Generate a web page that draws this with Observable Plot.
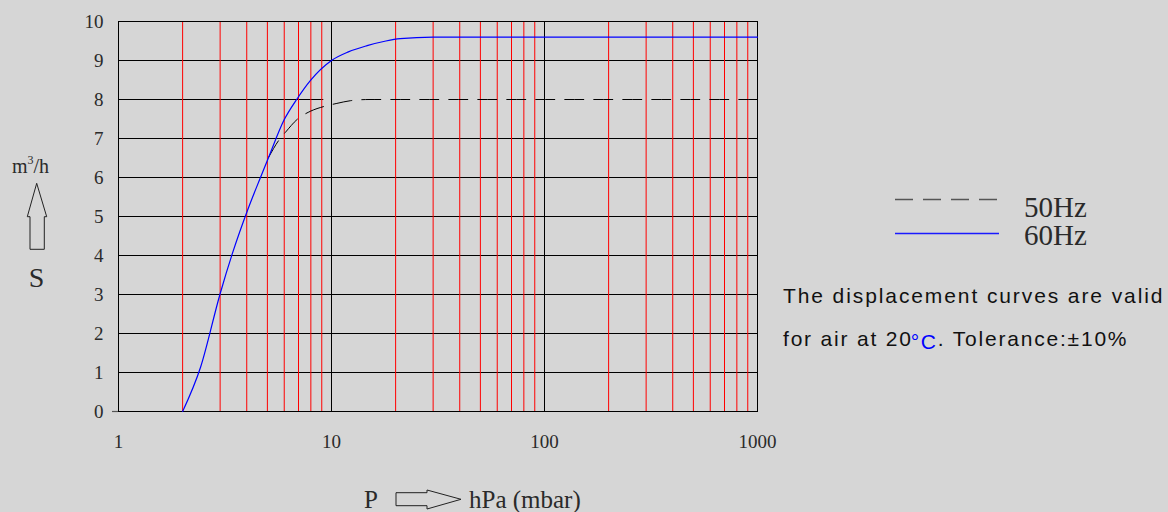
<!DOCTYPE html>
<html>
<head>
<meta charset="utf-8">
<script src="https://cdn.jsdelivr.net/npm/d3@7"></script>
<script src="https://cdn.jsdelivr.net/npm/@observablehq/plot@0.6"></script>
<style>
  html, body { margin: 0; padding: 0; background: #d6d6d6; }
  #chart { width: 1168px; height: 512px; position: relative; }
  svg { display: block; }
</style>
</head>
<body>
<div id="chart"></div>
<script>
// ---- data ----
const pressure60 = [2, 2.43, 3, 3.42, 4.06, 4.64, 5.07, 5.97, 6.9, 7.97, 10, 12, 14.7, 18, 21, 30, 1000];
const flow60     = [0, 1.14, 3.02, 4.04, 5.2, 6.0, 6.52, 7.46, 8.02, 8.49, 9.0, 9.22, 9.38, 9.5, 9.56, 9.6, 9.6];
const pressure50 = [5.07, 5.65, 6.08, 6.9, 7.97, 9.2, 10.6, 12.3, 15, 1000];
const flow50     = [6.52, 6.95, 7.16, 7.49, 7.7, 7.82, 7.9, 7.97, 8.0, 8.0];

const xTickValues = [1, 10, 100, 1000];
const yTickValues = [0, 1, 2, 3, 4, 5, 6, 7, 8, 9, 10];
const redGrid = [2, 3, 4, 5, 6, 7, 8, 9, 20, 30, 40, 50, 60, 70, 80, 90, 200, 300, 400, 500, 600, 700, 800, 900];
const blackGrid = [10, 100];
const hGrid = [1, 2, 3, 4, 5, 6, 7, 9];
const hGridPartial = [8];

const seriesNames = ["50Hz", "60Hz"];
const yLetter = "S";
const xLetter = "P";
const xUnit = "hPa (mbar)";
const note1 = "The displacement curves are valid";

const data60 = pressure60.map((p, i) => ({p, s: flow60[i]}));
const data50 = pressure50.map((p, i) => ({p, s: flow50[i]}));

const serif = "'Liberation Serif', 'Times New Roman', serif";
const sans = "'Liberation Sans', Arial, sans-serif";

const chart = Plot.plot({
  width: 1168,
  height: 512,
  marginLeft: 118,
  marginRight: 411,
  marginTop: 21,
  marginBottom: 101,
  x: {type: "log", domain: [1, 1000]},
  y: {domain: [0, 10]},
  style: {background: "transparent", fontFamily: serif, fontSize: "19px", color: "#2a2a2a", overflow: "visible"},
  marks: [
    Plot.ruleY(hGrid, {stroke: "#000", strokeWidth: 1}),
    Plot.ruleY(hGridPartial, {x1: 1, x2: 9.2, stroke: "#000", strokeWidth: 1}),
    Plot.ruleX(redGrid, {stroke: "#ff0000", strokeWidth: 1}),
    Plot.ruleX(blackGrid, {stroke: "#000", strokeWidth: 1}),
    Plot.ruleY([0], {stroke: "#555", strokeWidth: 1.2}),
    Plot.frame({stroke: "#000", strokeWidth: 1}),
    Plot.axisY([0], {tickSize: 6, tickFormat: () => "", label: null, stroke: "#555", strokeWidth: 1.2}),
    Plot.axisY({ticks: yTickValues, tickSize: 0, tickPadding: 15, label: null, tickFormat: d => String(d)}),
    Plot.axisX({ticks: xTickValues, tickSize: 0, tickPadding: 23, label: null, tickFormat: d => String(d)}),
    Plot.line(data50, {x: "p", y: "s", stroke: "#000", strokeWidth: 1, strokeDasharray: "19,10", curve: "monotone-x"}),
    Plot.line(data60, {x: "p", y: "s", stroke: "#0000ff", strokeWidth: 1.2, curve: "monotone-x"})
  ]
});
document.getElementById("chart").appendChild(chart);

// ---- decorations: axis titles, legend, note ----
const svg = d3.select(chart);
const g = svg.append("g").attr("fill", "#2a2a2a").attr("text-anchor", "start");

// y label m³/h
const yl = g.append("text").attr("x", 12).attr("y", 173).attr("font-family", serif).attr("font-size", 20);
yl.append("tspan").text("m");
yl.append("tspan").text("3").attr("font-size", 12).attr("dy", -9);
yl.append("tspan").text("/h").attr("dy", 9);

// up arrow
g.append("path")
  .attr("d", "M36.7,183.3 L46.7,216.7 L44.3,216.7 L44.3,249.3 L30,249.3 L30,216.7 L27.3,216.7 Z")
  .attr("fill", "none").attr("stroke", "#222").attr("stroke-width", 1);
g.append("text").attr("x", 36.5).attr("y", 287).attr("text-anchor", "middle")
  .attr("font-family", serif).attr("font-size", 28).text(yLetter);

// x label P => hPa (mbar)
g.append("text").attr("x", 364).attr("y", 508).attr("font-family", serif).attr("font-size", 25).text(xLetter);
g.append("path")
  .attr("d", "M396,492.7 L427,492.7 L427,490 L461,499.3 L427,509 L427,505.7 L396,505.7 Z")
  .attr("fill", "none").attr("stroke", "#222").attr("stroke-width", 1);
g.append("text").attr("x", 469).attr("y", 508).attr("font-family", serif).attr("font-size", 25).text(xUnit);

// legend
const legendItems = [
  {name: seriesNames[0], stroke: "#555555", dash: "18,10", y: 199.5, ty: 216.5},
  {name: seriesNames[1], stroke: "#1a1aff", dash: "none", y: 233.5, ty: 245}
];
legendItems.forEach(it => {
  g.append("line").attr("x1", 895).attr("x2", 999).attr("y1", it.y).attr("y2", it.y)
    .style("stroke", it.stroke).style("stroke-width", "1.4px").style("stroke-dasharray", it.dash);
  g.append("text").attr("x", 1024).attr("y", it.ty).attr("font-family", serif).attr("font-size", 29).text(it.name);
});

// note
g.append("text").attr("x", 783).attr("y", 303).attr("font-family", sans).attr("font-size", 21)
  .attr("fill", "#111").attr("letter-spacing", "1.9px").text(note1);
const n2 = g.append("text").attr("x", 783).attr("y", 345.5).attr("font-family", sans).attr("font-size", 21)
  .attr("fill", "#111").attr("letter-spacing", "1.8px");
n2.append("tspan").text("for air at 20");
n2.append("tspan").text("°C").attr("fill", "#0000ff").attr("dy", 3).attr("dx", -2);
n2.append("tspan").text(". Tolerance:±10%").attr("dy", -3);
</script>
</body>
</html>
